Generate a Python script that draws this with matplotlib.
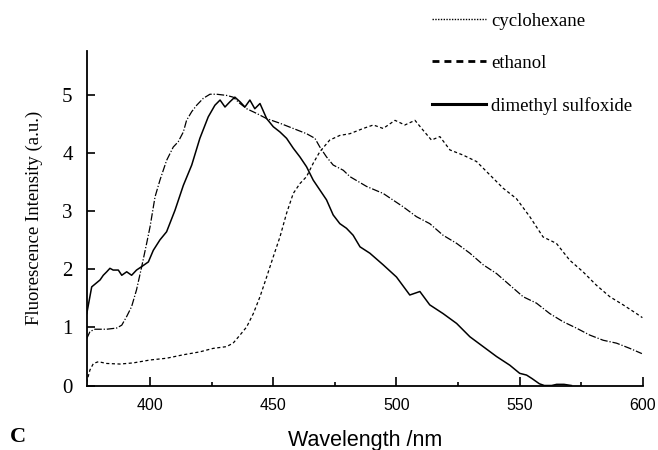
import numpy as np
import matplotlib.pyplot as plt
from matplotlib.lines import Line2D

plt.rcParams['font.family'] = 'Liberation Serif'

# emission spectra (wavelength nm, intensity a.u.)
dmso_x = [374.3, 376.3, 379.7, 381.0, 382.4, 383.7, 385.0, 387.1, 388.5, 390.5,
          392.5, 394.5, 396.6, 399.3, 401.3, 404.0, 406.7, 410.1, 413.5, 416.9,
          420.2, 423.6, 426.3, 428.4, 430.4, 432.4, 434.4, 436.5, 438.5, 440.5,
          442.5, 444.6, 447.3, 450.0, 452.7, 455.4, 458.1, 460.8, 463.5, 466.2,
          468.9, 471.6, 474.3, 477.0, 479.7, 482.4, 485.2, 489.2, 494.6, 500.0,
          505.4, 509.5, 513.5, 518.9, 524.4, 529.8, 535.2, 540.6, 546.0, 550.0,
          552.8, 555.0, 558.0, 560.0, 563.0, 565.0, 568.0, 571.0]
dmso_y = [1.24, 1.70, 1.82, 1.90, 1.96, 2.02, 1.99, 1.99, 1.90, 1.96,
          1.90, 1.99, 2.05, 2.13, 2.33, 2.51, 2.65, 3.02, 3.45, 3.80,
          4.26, 4.63, 4.83, 4.92, 4.80, 4.89, 4.97, 4.89, 4.80, 4.92,
          4.77, 4.86, 4.60, 4.46, 4.37, 4.26, 4.09, 3.94, 3.77, 3.54,
          3.37, 3.20, 2.94, 2.79, 2.71, 2.59, 2.39, 2.28, 2.08, 1.87,
          1.56, 1.62, 1.39, 1.24, 1.07, 0.84, 0.67, 0.50, 0.35, 0.21,
          0.18, 0.12, 0.03, 0.00, 0.00, 0.02, 0.02, 0.00]

eth_x = [374.3, 375.6, 377.6, 382.4, 386.4, 388.5, 390.5, 392.5, 394.5, 396.6,
         398.6, 400.0, 402.0, 404.0, 406.7, 409.4, 411.4, 413.5, 414.8, 416.9,
         418.9, 421.6, 424.3, 427.0, 431.0, 433.7, 436.5, 439.2, 443.2, 447.3,
         452.7, 458.1, 463.5, 466.9, 468.9, 471.6, 474.3, 478.4, 481.1, 487.9,
         494.6, 502.7, 508.1, 513.5, 518.9, 524.4, 529.8, 535.2, 540.6, 546.0,
         551.4, 556.8, 562.2, 567.6, 573.0, 578.4, 583.9, 589.3, 594.7, 599.6]
eth_y = [0.81, 0.93, 0.97, 0.97, 0.99, 1.04, 1.19, 1.36, 1.65, 2.05,
         2.45, 2.74, 3.25, 3.54, 3.88, 4.11, 4.20, 4.37, 4.57, 4.72,
         4.83, 4.95, 5.02, 5.02, 5.00, 4.97, 4.86, 4.77, 4.69, 4.60,
         4.52, 4.43, 4.34, 4.26, 4.11, 3.94, 3.80, 3.71, 3.60, 3.43,
         3.31, 3.08, 2.91, 2.79, 2.59, 2.45, 2.28, 2.08, 1.93, 1.73,
         1.53, 1.42, 1.24, 1.10, 0.99, 0.87, 0.78, 0.73, 0.64, 0.55]

cyc_x = [374.2, 375.6, 377.0, 379.0, 382.4, 387.8, 393.2, 400.0, 406.7, 413.5,
         420.2, 425.6, 431.0, 433.7, 436.5, 439.2, 441.9, 444.6, 447.3, 450.0,
         452.7, 455.4, 458.1, 460.8, 463.5, 466.2, 468.9, 472.9, 477.0, 481.1,
         486.5, 490.6, 494.6, 499.4, 503.4, 507.5, 510.8, 514.2, 517.6, 521.7,
         527.1, 532.5, 537.9, 543.3, 548.7, 554.1, 559.5, 564.9, 570.3, 575.7,
         581.1, 586.6, 592.0, 597.4, 599.8]
cyc_y = [0.05, 0.27, 0.38, 0.41, 0.38, 0.37, 0.39, 0.44, 0.47, 0.53,
         0.58, 0.64, 0.67, 0.73, 0.87, 1.01, 1.24, 1.53, 1.87, 2.22,
         2.56, 2.97, 3.31, 3.48, 3.60, 3.83, 4.03, 4.23, 4.31, 4.34,
         4.43, 4.49, 4.43, 4.57, 4.49, 4.57, 4.40, 4.23, 4.29, 4.06,
         3.97, 3.86, 3.63, 3.40, 3.22, 2.91, 2.56, 2.45, 2.16, 1.96,
         1.73, 1.53, 1.39, 1.24, 1.17]

labels = ['cyclohexane', 'ethanol', 'dimethyl sulfoxide']

fig = plt.figure(figsize=(6.58, 4.5), dpi=100)
ax = fig.add_axes([0.1315, 0.1433, 0.8455, 0.744])

ax.plot(cyc_x, cyc_y, color='black', lw=0.9, ls=(0, (2.5, 2)))
ax.plot(eth_x, eth_y, color='black', lw=0.9, ls=(0, (6, 1.5, 1, 1.5)))
ax.plot(dmso_x, dmso_y, color='black', lw=1.1)

ax.set_xlim(374.2, 600)
ax.set_ylim(0, 5.77)
ax.set_xticks([400, 450, 500, 550, 600])
ax.set_xticks([425, 475, 525, 575], minor=True)
ax.set_yticks([0, 1, 2, 3, 4, 5])

for s in ['top', 'right']:
    ax.spines[s].set_visible(False)
for s in ['left', 'bottom']:
    ax.spines[s].set_linewidth(1.3)

ax.tick_params(axis='x', which='major', direction='in', length=6.5, width=1.2,
               pad=9, labelsize=11.5, labelfontfamily='Liberation Sans')
ax.tick_params(axis='x', which='minor', direction='in', length=3, width=1.2)
ax.tick_params(axis='y', direction='in', length=6, width=1.2, pad=10, labelsize=15)

ax.set_xlabel('Wavelength /nm', fontsize=15.5, family='Liberation Sans', labelpad=12)
ax.set_ylabel('Fluorescence Intensity (a.u.)', fontsize=13.5, labelpad=14)

fig.text(18 / 658, 1 - 437 / 450, 'C', fontsize=16, fontweight='bold',
         ha='center', va='center')

handles = [Line2D([], [], color='black', lw=1.0, ls=(0, (1, 1))),
           Line2D([], [], color='black', lw=2.0, ls=(0, (2.5, 1.8))),
           Line2D([], [], color='black', lw=2.2)]
ax.legend(handles, labels, loc='upper left', bbox_to_anchor=(432 / 658, 0.972),
          bbox_transform=fig.transFigure, frameon=False, fontsize=13.5,
          handlelength=2.9, handletextpad=0.25, labelspacing=1.34,
          borderpad=0, borderaxespad=0)

fig.savefig('out.png', dpi=100)
